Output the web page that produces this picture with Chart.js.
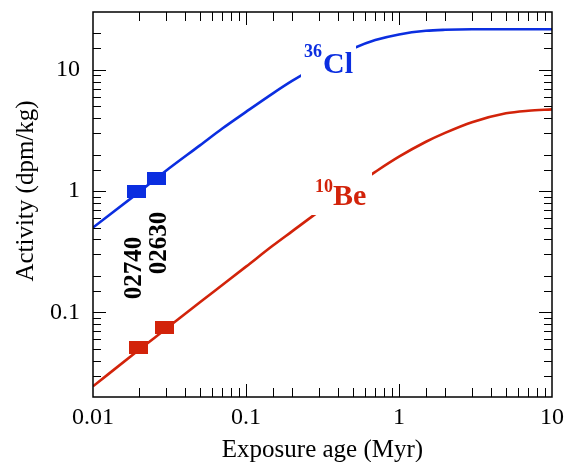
<!DOCTYPE html>
<html>
<head>
<meta charset="utf-8">
<script src="https://cdn.jsdelivr.net/npm/chart.js@4.4.0/dist/chart.umd.min.js"></script>
<style>
  html, body { margin: 0; padding: 0; background: #fff; }
  #wrap { width: 568px; height: 462px; }
</style>
</head>
<body>
<div id="wrap"><canvas id="activityChart"></canvas></div>
<script>
// values
const ages = [0.01, 0.02, 0.03, 0.05, 0.07, 0.1, 0.15, 0.2, 0.3, 0.5, 0.7, 1, 1.5, 2, 3, 5, 7, 10];
const cl36Activity = [0.50, 0.98, 1.47, 2.38, 3.28, 4.5, 6.4, 8.1, 10.9, 15.0, 17.6, 19.6, 21.0, 21.4, 21.6, 21.6, 21.6, 21.6];
const be10Activity = [0.0245, 0.049, 0.073, 0.121, 0.168, 0.238, 0.355, 0.465, 0.68, 1.08, 1.44, 1.92, 2.55, 3.02, 3.7, 4.38, 4.6, 4.72];

const sampleAges36 = [0.0192, 0.026];
const sampleCl36 = [1.0, 1.26];
const sampleAges10 = [0.0197, 0.0293];
const sampleBe10 = [0.051, 0.0744];

const xTickLabels = [0.01, 0.1, 1, 10];
const yTickLabels = [0.1, 1, 10];

const BLUE = '#0b2ee0';
const RED = '#d2230a';
const SERIF = '"Liberation Serif", "Times New Roman", serif';

function pairs(xs, ys) {
  return xs.map((x, i) => ({ x: x, y: ys[i] }));
}

function boxMarker(color, w, h) {
  const c = document.createElement('canvas');
  c.width = w;
  c.height = h;
  const g = c.getContext('2d');
  g.fillStyle = color;
  g.fillRect(0, 0, w, h);
  return c;
}

function tickText(value, list) {
  const hit = list.find(t => Math.abs(Math.log10(value) - Math.log10(t)) < 1e-6);
  return hit !== undefined ? String(hit) : '';
}

function isDecade(v) {
  const l = Math.log10(v);
  return Math.abs(l - Math.round(l)) < 1e-6;
}

// inward ticks on all four sides, frame and in-plot labels
const decorations = {
  id: 'decorations',
  afterDraw(chart) {
    const ctx = chart.ctx;
    const a = chart.chartArea;
    const xs = chart.scales.x;
    const ys = chart.scales.y;
    ctx.save();

    ctx.strokeStyle = '#000';
    ctx.lineWidth = 1;
    xs.ticks.forEach(t => {
      const px = Math.round(xs.getPixelForValue(t.value)) + 0.5;
      if (px < a.left + 1 || px > a.right - 1) return;
      const len = isDecade(t.value) ? 13 : 9;
      ctx.beginPath();
      ctx.moveTo(px, a.bottom); ctx.lineTo(px, a.bottom - len);
      ctx.moveTo(px, a.top); ctx.lineTo(px, a.top + len);
      ctx.stroke();
    });
    ys.ticks.forEach(t => {
      const py = Math.round(ys.getPixelForValue(t.value)) + 0.5;
      if (py < a.top + 1 || py > a.bottom - 1) return;
      const len = isDecade(t.value) ? 13 : 8;
      ctx.beginPath();
      ctx.moveTo(a.left, py); ctx.lineTo(a.left + len, py);
      ctx.moveTo(a.right, py); ctx.lineTo(a.right - len, py);
      ctx.stroke();
    });

    ctx.lineWidth = 1.5;
    ctx.strokeRect(a.left, a.top, a.right - a.left, a.bottom - a.top);

    // gaps in the curves behind the isotope labels
    ctx.fillStyle = '#fff';
    ctx.fillRect(301, 36, 55, 43);
    ctx.fillRect(311, 170, 61, 45);

    ctx.textAlign = 'left';
    ctx.textBaseline = 'alphabetic';
    ctx.fillStyle = BLUE;
    ctx.font = 'bold 18px ' + SERIF;
    ctx.fillText('36', 304, 57);
    ctx.font = 'bold 30px ' + SERIF;
    ctx.fillText('Cl', 323, 73);

    ctx.fillStyle = RED;
    ctx.font = 'bold 18px ' + SERIF;
    ctx.fillText('10', 315, 192);
    ctx.font = 'bold 30px ' + SERIF;
    ctx.fillText('Be', 333, 205);

    // sample names, rotated
    ctx.fillStyle = '#000';
    ctx.textAlign = 'center';
    ctx.font = 'bold 25px ' + SERIF;
    [['02740', 140.5, 268], ['02630', 165.5, 243]].forEach(([txt, x, y]) => {
      ctx.save();
      ctx.translate(x, y);
      ctx.rotate(-Math.PI / 2);
      ctx.fillText(txt, 0, 0);
      ctx.restore();
    });

    // axis titles
    ctx.font = '25px ' + SERIF;
    ctx.fillText('Exposure age (Myr)', (a.left + a.right) / 2, 457);
    ctx.save();
    ctx.translate(33, 191);
    ctx.rotate(-Math.PI / 2);
    ctx.fillText('Activity (dpm/kg)', 0, 0);
    ctx.restore();

    ctx.restore();
  }
};

new Chart(document.getElementById('activityChart'), {
  type: 'scatter',
  data: {
    datasets: [
      {
        data: pairs(ages, cl36Activity),
        showLine: true,
        borderColor: BLUE,
        borderWidth: 2.6,
        pointRadius: 0,
        cubicInterpolationMode: 'monotone'
      },
      {
        data: pairs(ages, be10Activity),
        showLine: true,
        borderColor: RED,
        borderWidth: 2.6,
        pointRadius: 0,
        cubicInterpolationMode: 'monotone'
      },
      {
        data: pairs(sampleAges36, sampleCl36),
        pointStyle: boxMarker(BLUE, 19, 13),
        showLine: false
      },
      {
        data: pairs(sampleAges10, sampleBe10),
        pointStyle: boxMarker(RED, 19, 13),
        showLine: false
      }
    ]
  },
  options: {
    responsive: true,
    maintainAspectRatio: false,
    animation: false,
    layout: { padding: { top: 12, right: 16, left: 0, bottom: 0 } },
    plugins: {
      legend: { display: false },
      tooltip: { enabled: false }
    },
    scales: {
      x: {
        type: 'logarithmic',
        min: 0.01,
        max: 10,
        grid: { display: false, drawTicks: false },
        border: { display: false },
        ticks: {
          autoSkip: false,
          maxRotation: 0,
          padding: 6,
          color: '#000',
          font: { family: SERIF, size: 24 },
          callback: v => tickText(v, xTickLabels)
        },
        afterFit: s => { s.height = 65; s.paddingLeft = 0; s.paddingRight = 0; }
      },
      y: {
        type: 'logarithmic',
        min: 0.02,
        max: 30,
        grid: { display: false, drawTicks: false },
        border: { display: false },
        ticks: {
          autoSkip: false,
          padding: 13,
          color: '#000',
          font: { family: SERIF, size: 24 },
          callback: v => tickText(v, yTickLabels)
        },
        afterFit: s => { s.width = 93; s.paddingTop = 0; s.paddingBottom = 0; }
      }
    }
  },
  plugins: [decorations]
});
</script>
</body>
</html>
